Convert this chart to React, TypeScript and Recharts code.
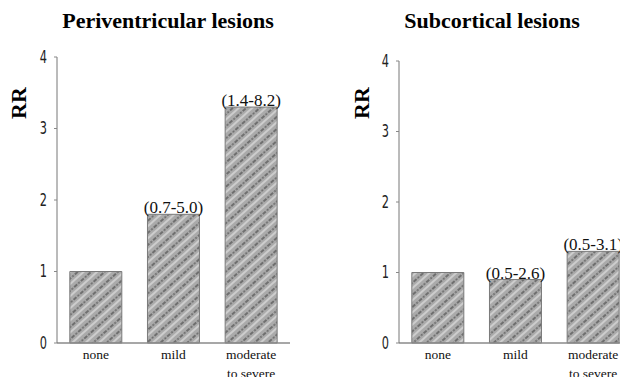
import React from 'react';
import { BarChart, Bar, XAxis, YAxis, LabelList } from 'recharts';

const categories = ['none', 'mild', 'moderate\nto severe'];
const periventricularRR = [1.0, 1.8, 3.3];
const periventricularCI = ['', '(0.7-5.0)', '(1.4-8.2)'];
const subcorticalRR = [1.0, 0.9, 1.3];
const subcorticalCI = ['', '(0.5-2.6)', '(0.5-3.1)'];
const yTicks = [0, 1, 2, 3, 4];

const serif = '"Liberation Serif", "Times New Roman", serif';

const buildRows = (values: number[], ci: string[]) =>
    categories.map((name, i) => ({ name, rr: values[i], ci: ci[i] }));

const CategoryTick = ({ x, y, payload }: any) => {
    const lines = String(payload.value).split('\n');
    return (
        <text x={x} y={y} textAnchor="middle" fontFamily={serif} fontSize={13.5} fill="#111">
            {lines.map((l, i) => (
                <tspan key={i} x={x} dy={i === 0 ? 8 : 19}>{l}</tspan>
            ))}
        </text>
    );
};

const ValueTick = ({ x, y, payload }: any) => (
    <text
        x={x}
        y={y}
        dy={6}
        textAnchor="end"
        fontFamily='"DejaVu Sans Condensed", "Liberation Sans Narrow", sans-serif'
        fontSize={18}
        fill="#222"
        transform={`translate(${x} ${y}) scale(0.7 1) translate(${-x} ${-y})`}
    >
        {payload.value}
    </text>
);

const Hatch = ({ id }: { id: string }) => (
    <defs>
        <pattern id={id} patternUnits="userSpaceOnUse" width={9} height={9} patternTransform="rotate(-42)">
            <rect width={9} height={9} fill="#aaaaaa" />
            <line x1={0} y1={2} x2={9} y2={2} stroke="#5c5c5c" strokeWidth={1.3} strokeDasharray="2 1.5" />
            <line x1={0} y1={6} x2={9} y2={6} stroke="#d6d6d6" strokeWidth={1.6} />
        </pattern>
    </defs>
);

const Panel = ({ values, ci, id, axisWidth, top, right }: any) => (
    <BarChart
        width={320}
        height={385}
        data={buildRows(values, ci)}
        margin={{ top, right, bottom: 0, left: 0 }}
        barCategoryGap="16.5%"
    >
        <Hatch id={id} />
        <XAxis
            dataKey="name"
            height={42}
            interval={0}
            tick={<CategoryTick />}
            tickLine={false}
            axisLine={{ stroke: '#8a8a8a', strokeWidth: 1.5 }}
        />
        <YAxis
            width={axisWidth}
            domain={[0, 4]}
            ticks={yTicks}
            tick={<ValueTick />}
            tickSize={3}
            tickMargin={7}
            tickLine={{ stroke: '#888' }}
            axisLine={{ stroke: '#777' }}
        />
        <Bar dataKey="rr" fill={`url(#${id})`} stroke="#7a7a7a" strokeWidth={1} isAnimationActive={false}>
            <LabelList
                dataKey="ci"
                position="top"
                offset={1}
                style={{ fontFamily: serif, fontSize: 17, fill: '#111' }}
            />
        </Bar>
    </BarChart>
);

const Title = ({ text, cx }: { text: string; cx: number }) => (
    <div
        style={{
            position: 'absolute',
            left: cx - 150,
            top: 8,
            width: 300,
            textAlign: 'center',
            fontFamily: serif,
            fontWeight: 'bold',
            fontSize: 22,
            color: '#000',
        }}
    >
        {text}
    </div>
);

const RRLabel = ({ cx }: { cx: number }) => (
    <div
        style={{
            position: 'absolute',
            left: cx - 20,
            top: 90,
            width: 40,
            textAlign: 'center',
            fontFamily: serif,
            fontWeight: 'bold',
            fontSize: 22,
            transform: 'rotate(-90deg)',
        }}
    >
        RR
    </div>
);

export default function App() {
    return (
        <div style={{ position: 'relative', width: 628, height: 385, margin: -8, overflow: 'hidden', background: '#fff' }}>
            <div style={{ position: 'absolute', left: 0, top: 0 }}>
                <Panel values={periventricularRR} ci={periventricularCI} id="hatchA" axisWidth={57} top={57} right={30} />
            </div>
            <div style={{ position: 'absolute', left: 320, top: 0 }}>
                <Panel values={subcorticalRR} ci={subcorticalCI} id="hatchB" axisWidth={79} top={61} right={8} />
            </div>
            <Title text="Periventricular lesions" cx={168} />
            <Title text="Subcortical lesions" cx={492} />
            <RRLabel cx={19} />
            <RRLabel cx={362} />
        </div>
    );
}
